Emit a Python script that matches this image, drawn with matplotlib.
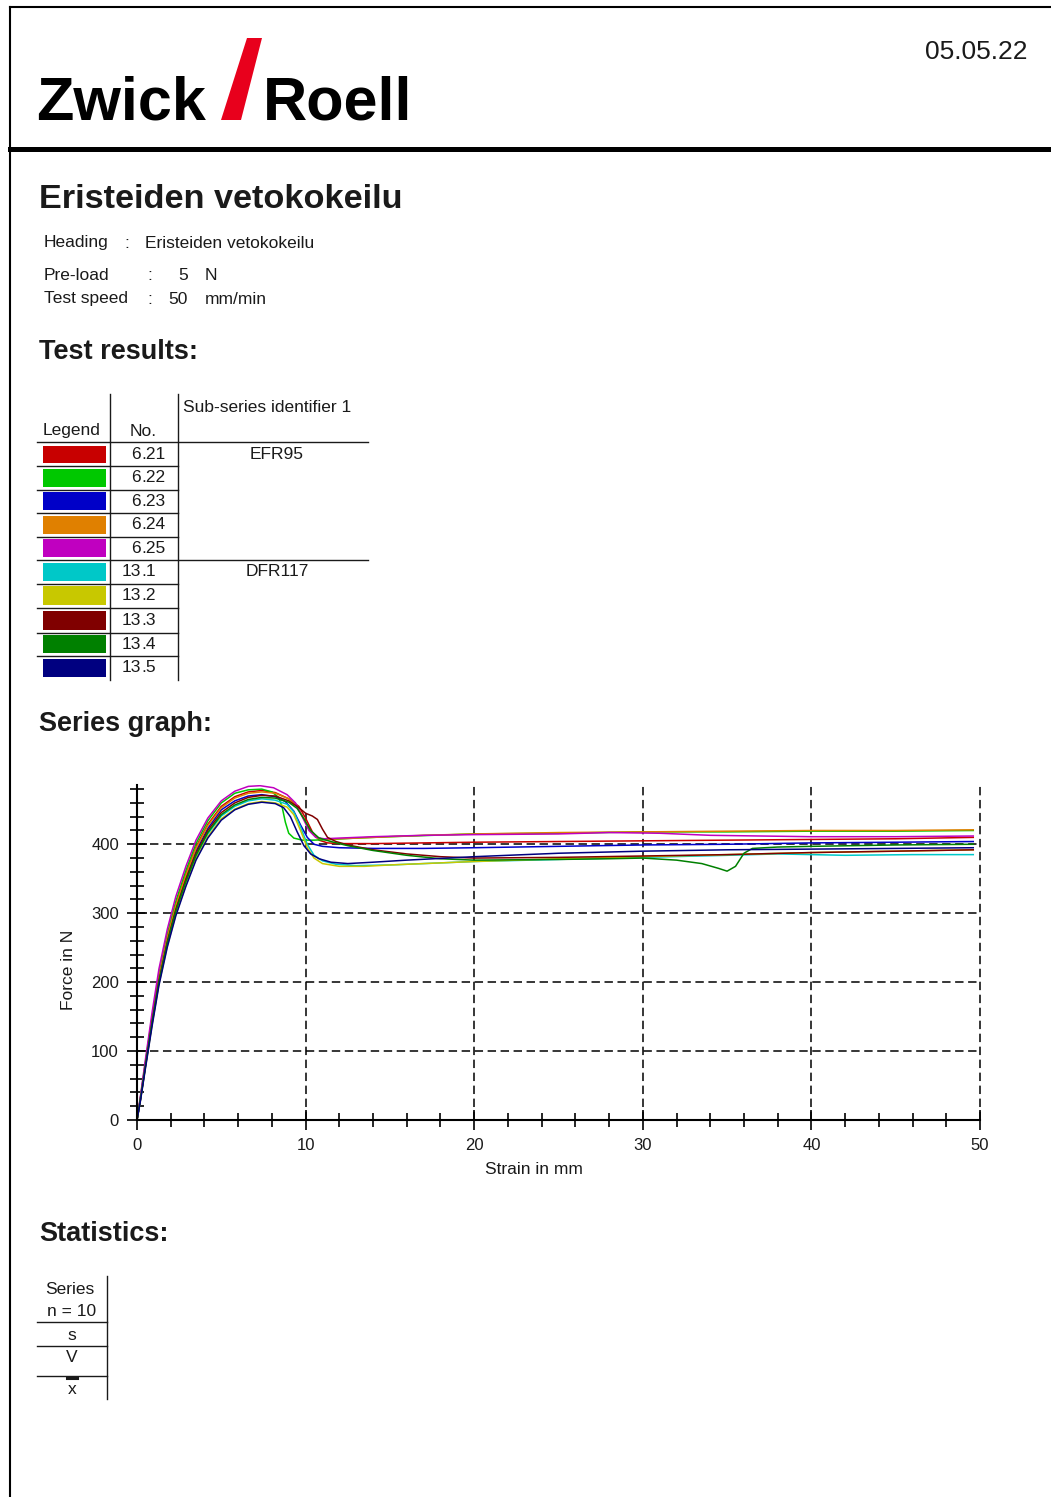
import matplotlib.pyplot as plt
from matplotlib.patches import Polygon, Rectangle
from matplotlib.ticker import MultipleLocator

plt.rcParams['font.family'] = ['Liberation Sans', 'DejaVu Sans']

# --- data ---
sample_no = ['6.21', '6.22', '6.23', '6.24', '6.25', '13.1', '13.2', '13.3', '13.4', '13.5']
sub_series = ['EFR95', 'EFR95', 'EFR95', 'EFR95', 'EFR95',
              'DFR117', 'DFR117', 'DFR117', 'DFR117', 'DFR117']
colors = ['#c80000', '#00c800', '#0000c8', '#e08000', '#c000c0',
          '#00c8c8', '#c8c800', '#800000', '#008000', '#000080']

strain_621 = [0, 0.2, 0.5, 0.9, 1.3, 1.8, 2.3, 2.9, 3.5, 4.2, 5.0, 5.8, 6.6, 7.4, 8.2, 9.0, 9.6, 10.0, 10.4,
              10.8, 11.3, 12, 14, 17, 20, 25, 30, 35, 40, 45, 49.6]
force_621 = [0, 31, 82, 148, 208, 266, 313, 357, 396, 429, 455, 469, 476, 478, 475, 466, 455, 438, 418,
             406, 402, 401, 401, 402, 403, 404, 405, 406, 407, 408, 410]

strain_622 = [0, 0.2, 0.5, 0.9, 1.3, 1.8, 2.3, 2.9, 3.5, 4.2, 5.0, 5.8, 6.6, 7.4, 8.0, 8.4, 8.6, 8.8, 9.0,
              9.3, 9.8, 10.5, 11.5, 13, 15, 20, 25, 30, 35, 40, 45, 49.6]
force_622 = [0, 32, 84, 150, 211, 270, 317, 362, 401, 434, 460, 474, 479, 480, 476, 468, 455, 432, 416,
             409, 406, 406, 407, 409, 411, 415, 416, 418, 418, 419, 419, 420]

strain_623 = [0, 0.2, 0.5, 0.9, 1.3, 1.8, 2.3, 2.9, 3.5, 4.2, 5.0, 5.8, 6.6, 7.4, 8.2, 8.8, 9.3, 9.7, 10.1,
              10.5, 11.0, 12, 14, 17, 20, 25, 30, 35, 40, 45, 49.6]
force_623 = [0, 30, 80, 145, 204, 262, 308, 352, 390, 423, 450, 463, 470, 472, 469, 462, 448, 428, 410,
             400, 397, 395, 394, 394, 395, 397, 399, 400, 402, 403, 404]

strain_624 = [0, 0.2, 0.5, 0.9, 1.3, 1.8, 2.3, 2.9, 3.5, 4.2, 5.0, 5.8, 6.6, 7.4, 8.2, 9.0, 9.5, 9.9, 10.3,
              10.7, 11.2, 12, 14, 17, 20, 25, 30, 35, 40, 45, 49.6]
force_624 = [0, 31, 81, 147, 207, 265, 311, 355, 394, 427, 453, 467, 474, 476, 474, 466, 455, 437, 418,
             409, 407, 408, 410, 413, 415, 417, 418, 419, 420, 420, 421]

strain_625 = [0, 0.2, 0.5, 0.9, 1.3, 1.8, 2.3, 2.9, 3.5, 4.2, 5.0, 5.8, 6.6, 7.3, 8.1, 8.9, 9.4, 9.8, 10.2,
              10.6, 11.1, 12, 14, 17, 20, 25, 28, 31, 34, 40, 45, 49.6]
force_625 = [0, 34, 88, 157, 219, 277, 324, 368, 406, 438, 463, 477, 484, 485, 482, 472, 460, 440, 420,
             410, 408, 409, 411, 413, 414, 415, 417, 416, 413, 411, 411, 412]

strain_131 = [0, 0.2, 0.5, 0.9, 1.3, 1.8, 2.3, 2.9, 3.5, 4.2, 5.0, 5.8, 6.6, 7.4, 8.2, 8.9, 9.3, 9.7, 10.1,
              10.5, 11.0, 11.8, 13, 15, 20, 25, 30, 35, 38, 42, 46, 49.6]
force_131 = [0, 29, 78, 141, 199, 256, 301, 344, 382, 415, 441, 455, 463, 466, 464, 458, 447, 425, 400,
             384, 376, 371, 369, 370, 375, 378, 381, 384, 386, 384, 385, 385]

strain_132 = [0, 0.2, 0.5, 0.9, 1.3, 1.8, 2.3, 2.9, 3.5, 4.2, 5.0, 5.8, 6.6, 7.4, 8.2, 8.9, 9.3, 9.7, 10.1,
              10.5, 11.0, 12, 13.5, 15, 20, 25, 30, 35, 40, 45, 49.6]
force_132 = [0, 28, 76, 139, 197, 253, 298, 341, 379, 411, 437, 451, 459, 462, 460, 454, 443, 420, 395,
             380, 372, 368, 368, 370, 375, 379, 382, 385, 388, 390, 392]

strain_133 = [0, 0.2, 0.5, 0.9, 1.3, 1.8, 2.3, 2.9, 3.5, 4.2, 5.0, 5.8, 6.6, 7.4, 8.2, 9.0, 9.6, 10.0, 10.4,
              10.7, 11.0, 11.3, 11.8, 12.5, 14, 16, 18, 20, 25, 30, 35, 40, 45, 49.6]
force_133 = [0, 29, 79, 143, 202, 259, 305, 349, 387, 420, 446, 460, 468, 471, 470, 463, 453, 445, 441,
             436, 422, 410, 404, 399, 392, 386, 382, 380, 381, 383, 385, 388, 390, 392]

strain_134 = [0, 0.2, 0.5, 0.9, 1.3, 1.8, 2.3, 2.9, 3.5, 4.2, 5.0, 5.8, 6.6, 7.4, 8.2, 9.0, 9.5, 9.9, 10.3,
              10.8, 11.5, 12.5, 14, 16, 18, 20, 25, 28, 30, 32, 33.5, 34.5, 35.0, 35.5, 36.0, 36.5, 38, 40,
              45, 49.6]
force_134 = [0, 29, 78, 142, 200, 257, 303, 346, 384, 417, 443, 457, 465, 468, 467, 461, 452, 437, 420,
             409, 404, 398, 391, 384, 379, 377, 378, 379, 380, 377, 372, 365, 361, 368, 387, 394, 396, 397,
             399, 400]

strain_135 = [0, 0.2, 0.5, 0.9, 1.3, 1.8, 2.3, 2.9, 3.5, 4.2, 5.0, 5.8, 6.6, 7.4, 8.2, 8.7, 9.1, 9.5, 9.9,
              10.3, 10.8, 11.5, 12.5, 14, 16, 20, 25, 30, 35, 40, 45, 49.6]
force_135 = [0, 27, 75, 137, 195, 251, 296, 339, 377, 409, 435, 450, 458, 461, 459, 453, 440, 418, 398,
             386, 379, 374, 372, 374, 377, 382, 387, 390, 392, 393, 394, 395]

strains = [strain_621, strain_622, strain_623, strain_624, strain_625,
           strain_131, strain_132, strain_133, strain_134, strain_135]
forces = [force_621, force_622, force_623, force_624, force_625,
          force_131, force_132, force_133, force_134, force_135]

stat_rows = ['s', 'V', 'x']

ink = '#1a1a1a'

fig = plt.figure(figsize=(10.51, 14.97), dpi=100)

# page overlay in pixel coordinates (y downwards)
page = fig.add_axes([0, 0, 1, 1])
page.set_xlim(0, 1051)
page.set_ylim(1497, 0)
page.axis('off')

# frame
page.plot([10, 10], [7, 1497], color='black', lw=1.5)
page.plot([10, 1051], [7, 7], color='black', lw=1.5)
page.plot([10, 1051], [149, 149], color='black', lw=3.6)

# logo and date
page.text(36, 120, 'Zwick', fontsize=44, fontweight='bold', color='black', va='baseline')
page.add_patch(Polygon([[221, 120], [241, 120], [262, 38], [247, 38]], closed=True,
                       color='#e8001c', lw=0))
page.text(263, 120, 'Roell', fontsize=44, fontweight='bold', color='black', va='baseline')
page.text(1028, 52, '05.05.22', fontsize=19, color=ink, ha='right', va='center')

# title and test parameters
page.text(39, 200, 'Eristeiden vetokokeilu', fontsize=24.7, fontweight='bold', color=ink, va='center')
small = 12.5
page.text(44, 243, 'Heading', fontsize=small, color=ink, va='center')
page.text(124, 243, ':', fontsize=small, color=ink, va='center')
page.text(145, 243, 'Eristeiden vetokokeilu', fontsize=small, color=ink, va='center')
page.text(44, 275, 'Pre-load', fontsize=small, color=ink, va='center')
page.text(147, 275, ':', fontsize=small, color=ink, va='center')
page.text(188, 275, '5', fontsize=small, color=ink, va='center', ha='right')
page.text(205, 275, 'N', fontsize=small, color=ink, va='center')
page.text(44, 299, 'Test speed', fontsize=small, color=ink, va='center')
page.text(147, 299, ':', fontsize=small, color=ink, va='center')
page.text(188, 299, '50', fontsize=small, color=ink, va='center', ha='right')
page.text(205, 299, 'mm/min', fontsize=small, color=ink, va='center')

head = 19.5
page.text(39, 352, 'Test results:', fontsize=head, fontweight='bold', color=ink, va='center')

# legend table
page.plot([110, 110], [394, 680], color=ink, lw=1)
page.plot([178, 178], [394, 680], color=ink, lw=1)
page.plot([37, 368], [442, 442], color=ink, lw=1)
page.text(43, 431, 'Legend', fontsize=small, color=ink, va='center')
page.text(130, 431, 'No.', fontsize=small, color=ink, va='center')
page.text(183, 408, 'Sub-series identifier 1', fontsize=small, color=ink, va='center')
row_top = [443, 466, 489.5, 513, 536.5, 560, 583.5, 608, 632.5, 656]
row_h = [23, 23.5, 23.5, 23.5, 23.5, 23.5, 24.5, 24.5, 23.5, 24]
for i, no in enumerate(sample_no):
    top = row_top[i]
    yc = top + row_h[i] / 2
    page.add_patch(Rectangle((43, top + 2.5), 63, row_h[i] - 5.5, color=colors[i], lw=0))
    whole, frac = no.split('.')
    page.text(141, yc, whole, fontsize=small, color=ink, va='center', ha='right')
    page.text(141, yc, '.' + frac, fontsize=small, color=ink, va='center', ha='left')
    if i > 0:
        end = 368 if sub_series[i] != sub_series[i - 1] else 178
        page.plot([37, end], [top, top], color=ink, lw=1)
    if i == 0 or sub_series[i] != sub_series[i - 1]:
        page.text(277, yc, sub_series[i], fontsize=small, color=ink, va='center', ha='center')

page.text(39, 724, 'Series graph:', fontsize=head, fontweight='bold', color=ink, va='center')
page.text(39, 1234, 'Statistics:', fontsize=head, fontweight='bold', color=ink, va='center')

# statistics table
page.plot([107, 107], [1276, 1399], color=ink, lw=1)
for yl in [1322, 1346, 1376]:
    page.plot([37, 107], [yl, yl], color=ink, lw=1)
page.text(70, 1289, 'Series', fontsize=small, color=ink, va='center', ha='center')
page.text(72, 1312, 'n = 10', fontsize=small, color=ink, va='center', ha='center')
page.text(72, 1335, stat_rows[0], fontsize=small, color=ink, va='center', ha='center')
page.text(72, 1358, stat_rows[1], fontsize=small, color=ink, va='center', ha='center')
page.text(72, 1389, stat_rows[2], fontsize=small, color=ink, va='center', ha='center')
page.plot([67, 77], [1378, 1378], color=ink, lw=2.2)

# series graph
ax = fig.add_axes([137 / 1051, 1 - 1120 / 1497, 843 / 1051, 335 / 1497])
for s, f, c in zip(strains, forces, colors):
    ax.plot(s, f, color=c, lw=1.1)
ax.set_xlim(0, 50)
ax.set_ylim(0, 486)
ax.xaxis.set_major_locator(MultipleLocator(10))
ax.xaxis.set_minor_locator(MultipleLocator(2))
ax.yaxis.set_major_locator(MultipleLocator(100))
ax.yaxis.set_minor_locator(MultipleLocator(20))
ax.grid(True, which='major', color='black', ls=(0, (5.5, 3)), lw=1.1)
for gl in ax.get_xgridlines() + ax.get_ygridlines():
    gl.set_clip_on(False)
ax.tick_params(which='both', direction='inout', color='black', width=1.2,
               labelsize=12, labelcolor=ink)
ax.tick_params(which='major', length=14)
ax.tick_params(which='minor', length=10)
ax.tick_params(axis='x', pad=6)
ax.tick_params(axis='y', pad=6)
for side in ['top', 'right']:
    ax.spines[side].set_visible(False)
for side in ['left', 'bottom']:
    ax.spines[side].set_linewidth(1.5)
ax.set_xlabel('Strain in mm', fontsize=12.5, color=ink)
ax.set_ylabel('Force in N', fontsize=12.5, color=ink)
ax.xaxis.set_label_coords((534 - 137) / 843, -(1162 - 1120) / 335)
ax.yaxis.set_label_coords((76 - 137) / 843, (1120 - 970) / 335)
ax.set_facecolor('none')

fig.savefig('out.png', dpi=100)
